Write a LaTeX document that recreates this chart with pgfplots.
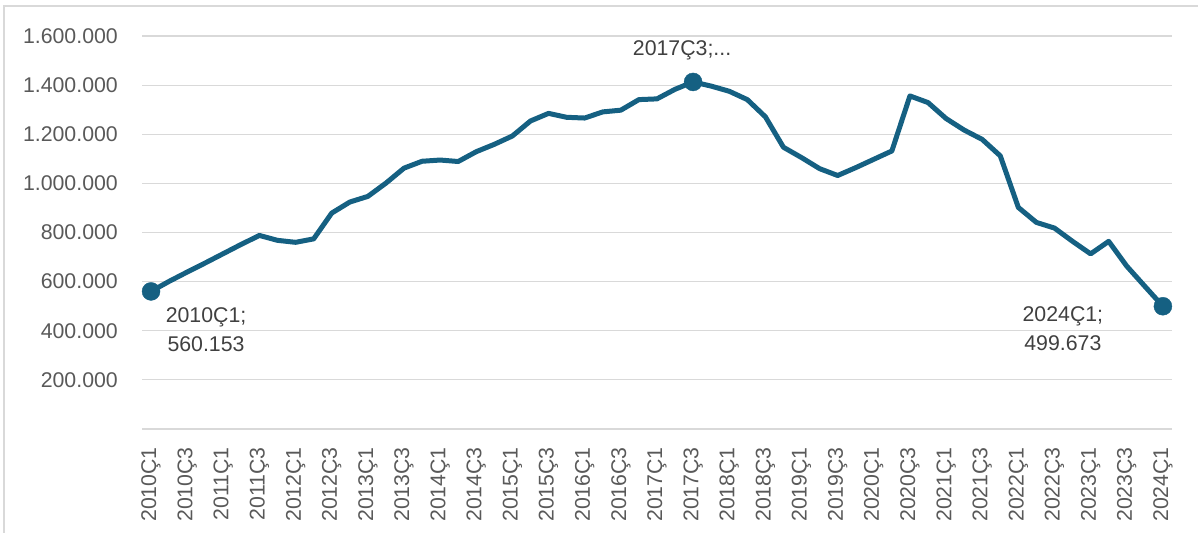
\documentclass[border=0pt]{standalone}
\usepackage{fontspec}
\setmainfont{Liberation Sans}
\usepackage{pgfplots}
\pgfplotsset{compat=1.18}
\definecolor{linec}{HTML}{156082}
\definecolor{gridc}{HTML}{D9D9D9}
\definecolor{tickc}{HTML}{595959}
\definecolor{lblc}{HTML}{404040}
\newcommand{\cf}{\fontsize{21.3bp}{25bp}\selectfont}
\begin{document}
\begin{tikzpicture}
\path[use as bounding box] (0,0) rectangle (1198bp,533bp);
\draw[gridc, line width=1.2bp] (4bp,0) -- (4bp,527bp) -- (1198bp,527bp);
\begin{axis}[
  at={(142bp,104bp)}, anchor=south west,
  scale only axis, width=1030bp, height=393bp,
  xmin=-0.5, xmax=56.5, ymin=0, ymax=1600000,
  scaled y ticks=false,
  axis line style={draw=none},
  major tick length=0pt,
  ymajorgrids, grid style={gridc, line width=1.2bp},
  ytick={0,200000,400000,600000,800000,1000000,1200000,1400000,1600000},
  yticklabels={{},200.000,400.000,600.000,800.000,1.000.000,1.200.000,1.400.000,1.600.000},
  yticklabel style={font=\cf, text=tickc, inner sep=0pt, anchor=east},
  yticklabel shift=24bp,
  xtick={0,2,...,56},
  xticklabels={2010Ç1,2010Ç3,2011Ç1,2011Ç3,2012Ç1,2012Ç3,2013Ç1,2013Ç3,2014Ç1,2014Ç3,2015Ç1,2015Ç3,2016Ç1,2016Ç3,2017Ç1,2017Ç3,2018Ç1,2018Ç3,2019Ç1,2019Ç3,2020Ç1,2020Ç3,2021Ç1,2021Ç3,2022Ç1,2022Ç3,2023Ç1,2023Ç3,2024Ç1},
  xticklabel style={font=\cf, text=tickc, inner sep=0pt, rotate=90, anchor=east},
  xticklabel shift=18bp,
  clip=false,
]
\addplot[linec, line width=5bp, line join=round, mark=none] coordinates {
(0,560153) (1,601000) (2,639000) (3,676000) (4,714000) (5,752000) (6,788000)
(7,768000) (8,760000) (9,774000) (10,879000) (11,924000) (12,947000) (13,1001000)
(14,1062000) (15,1090000) (16,1095000) (17,1089000) (18,1129000) (19,1159000)
(20,1193000) (21,1254000) (22,1285000) (23,1269000) (24,1266000) (25,1291000)
(26,1298000) (27,1341000) (28,1344000) (29,1383000) (30,1413000) (31,1396000)
(32,1375000) (33,1341000) (34,1271000) (35,1147000) (36,1105000) (37,1060000)
(38,1032000) (39,1064000) (40,1098000) (41,1132000) (42,1356000) (43,1329000)
(44,1264000) (45,1217000) (46,1179000) (47,1112000) (48,902000) (49,841000)
(50,818000) (51,764000) (52,713000) (53,764000) (54,663000) (55,581000)
(56,499673)
};
\addplot[only marks, mark=*, mark size=9bp, mark options={fill=linec, draw=linec}] coordinates {
(0,560153) (30,1413000) (56,499673)
};
\node[anchor=base, text=lblc, font=\cf, inner sep=0pt, xshift=55bp, yshift=-31bp] at (axis cs:0,560153) {2010Ç1;};
\node[anchor=base, text=lblc, font=\cf, inner sep=0pt, xshift=55bp, yshift=-60bp] at (axis cs:0,560153) {560.153};
\node[anchor=base, text=lblc, font=\cf, inner sep=0pt, xshift=-11bp, yshift=26bp] at (axis cs:30,1413000) {2017Ç3;...};
\node[anchor=base, text=lblc, font=\cf, inner sep=0pt, xshift=-100bp, yshift=-15.6bp] at (axis cs:56,499673) {2024Ç1;};
\node[anchor=base, text=lblc, font=\cf, inner sep=0pt, xshift=-100bp, yshift=-44.3bp] at (axis cs:56,499673) {499.673};
\end{axis}
\end{tikzpicture}
\end{document}
